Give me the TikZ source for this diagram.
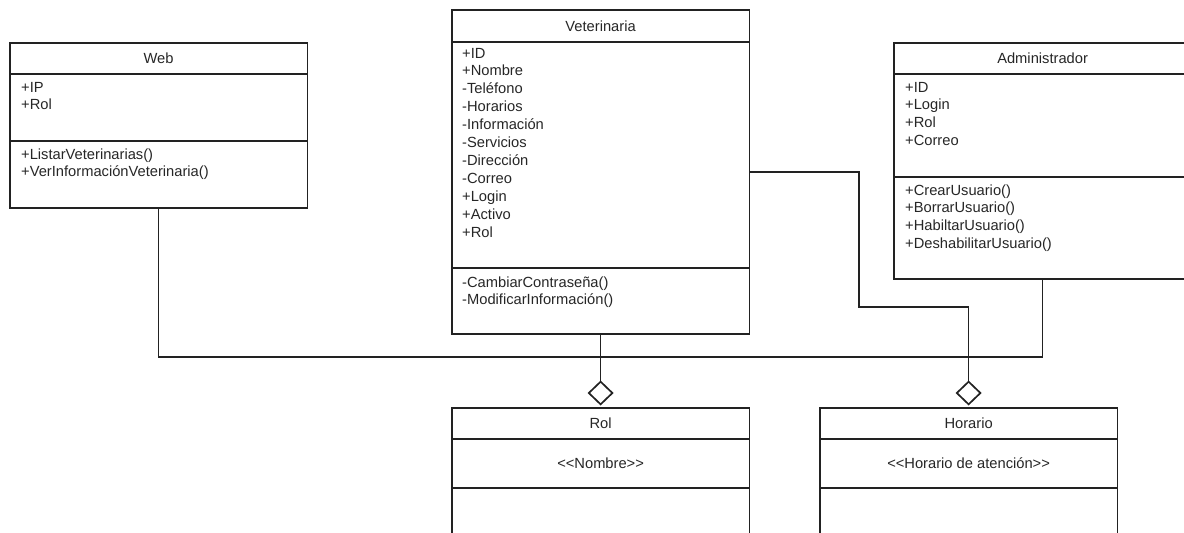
\documentclass[tikz,border=0pt]{standalone}
\usepackage{fontspec}
\setmainfont{Liberation Sans}
\usetikzlibrary{arrows.meta}
\definecolor{ink}{HTML}{222222}
\definecolor{txt}{HTML}{262626}
\begin{document}
\begin{tikzpicture}[x=1pt,y=-1pt,
  box/.style={draw=ink, line width=1.7pt, rectangle, inner sep=0pt, anchor=north west, minimum width=297.5pt},
  hdr/.style={box, text=txt, font=\fontsize{14.7}{17.9}\selectfont},
  lines/.style={anchor=base west, inner sep=0pt, align=left, text=txt, font=\fontsize{14.7}{17.9}\selectfont},
  ctext/.style={anchor=center, inner sep=0pt, text=txt, font=\fontsize{14.7}{17.9}\selectfont},
  conn/.style={draw=ink, line width=1.7pt},
  agg/.style={conn, -{Diamond[open, length=25pt, width=26pt, fill=white]}, shorten >=1.5pt}
]
\useasboundingbox (0,0) rectangle (1184,533);

% Web
\node[hdr, minimum height=31pt] (webT) at (9,42) {Web};
\node[box, minimum height=67pt] (webA) at (9,73) {};
\node[box, minimum height=67pt] (webM) at (9,140) {};
\node[lines] (webAt) at (21,109.9) {+IP\\+Rol};
\node[lines] (webMt) at (21,176.9) {+ListarVeterinarias()\\+VerInformaciónVeterinaria()};

% Veterinaria
\node[hdr, minimum height=32pt] (vetT) at (451,9) {Veterinaria};
\node[box, minimum height=226pt] (vetA) at (451,41) {};
\node[box, minimum height=66pt] (vetM) at (451,267) {};
\node[lines] (vetAt) at (462,237) {+ID\\+Nombre\\-Teléfono\\-Horarios\\-Información\\-Servicios\\-Dirección\\-Correo\\+Login\\+Activo\\+Rol};
\node[lines] (vetMt) at (462,304.9) {-CambiarContraseña()\\-ModificarInformación()};

% Administrador
\node[hdr, minimum height=31pt] (admT) at (893,42) {Administrador};
\node[box, minimum height=103pt] (admA) at (893,73) {};
\node[box, minimum height=102pt] (admM) at (893,176) {};
\node[lines] (admAt) at (905,145.7) {+ID\\+Login\\+Rol\\+Correo};
\node[lines] (admMt) at (905,248.7) {+CrearUsuario()\\+BorrarUsuario()\\+HabiltarUsuario()\\+DeshabilitarUsuario()};

% Rol
\node[hdr, minimum height=31pt] (rolT) at (451,407) {Rol};
\node[box, minimum height=49pt] (rolA) at (451,438) {};
\node[box, minimum height=70pt] (rolM) at (451,487) {};
\node[ctext] (rolAt) at (rolA.center) {{<}{<}Nombre{>}{>}};

% Horario
\node[hdr, minimum height=31pt] (horT) at (819,407) {Horario};
\node[box, minimum height=49pt] (horA) at (819,438) {};
\node[box, minimum height=70pt] (horM) at (819,487) {};
\node[ctext] (horAt) at (horA.center) {{<}{<}Horario de atención{>}{>}};

% connectors
\coordinate (webDown) at (webM.south |- 0,357);
\draw[conn] (webM.south) -- (webDown) -| (admM.south);
\draw[agg] (vetM.south) -- (rolT.north);
\coordinate (vetOut) at (vetA.east |- 0,172);
\coordinate (bend) at (859,307);
\draw[agg] (vetOut) -| (bend) -| (horT.north);
\end{tikzpicture}
\end{document}
